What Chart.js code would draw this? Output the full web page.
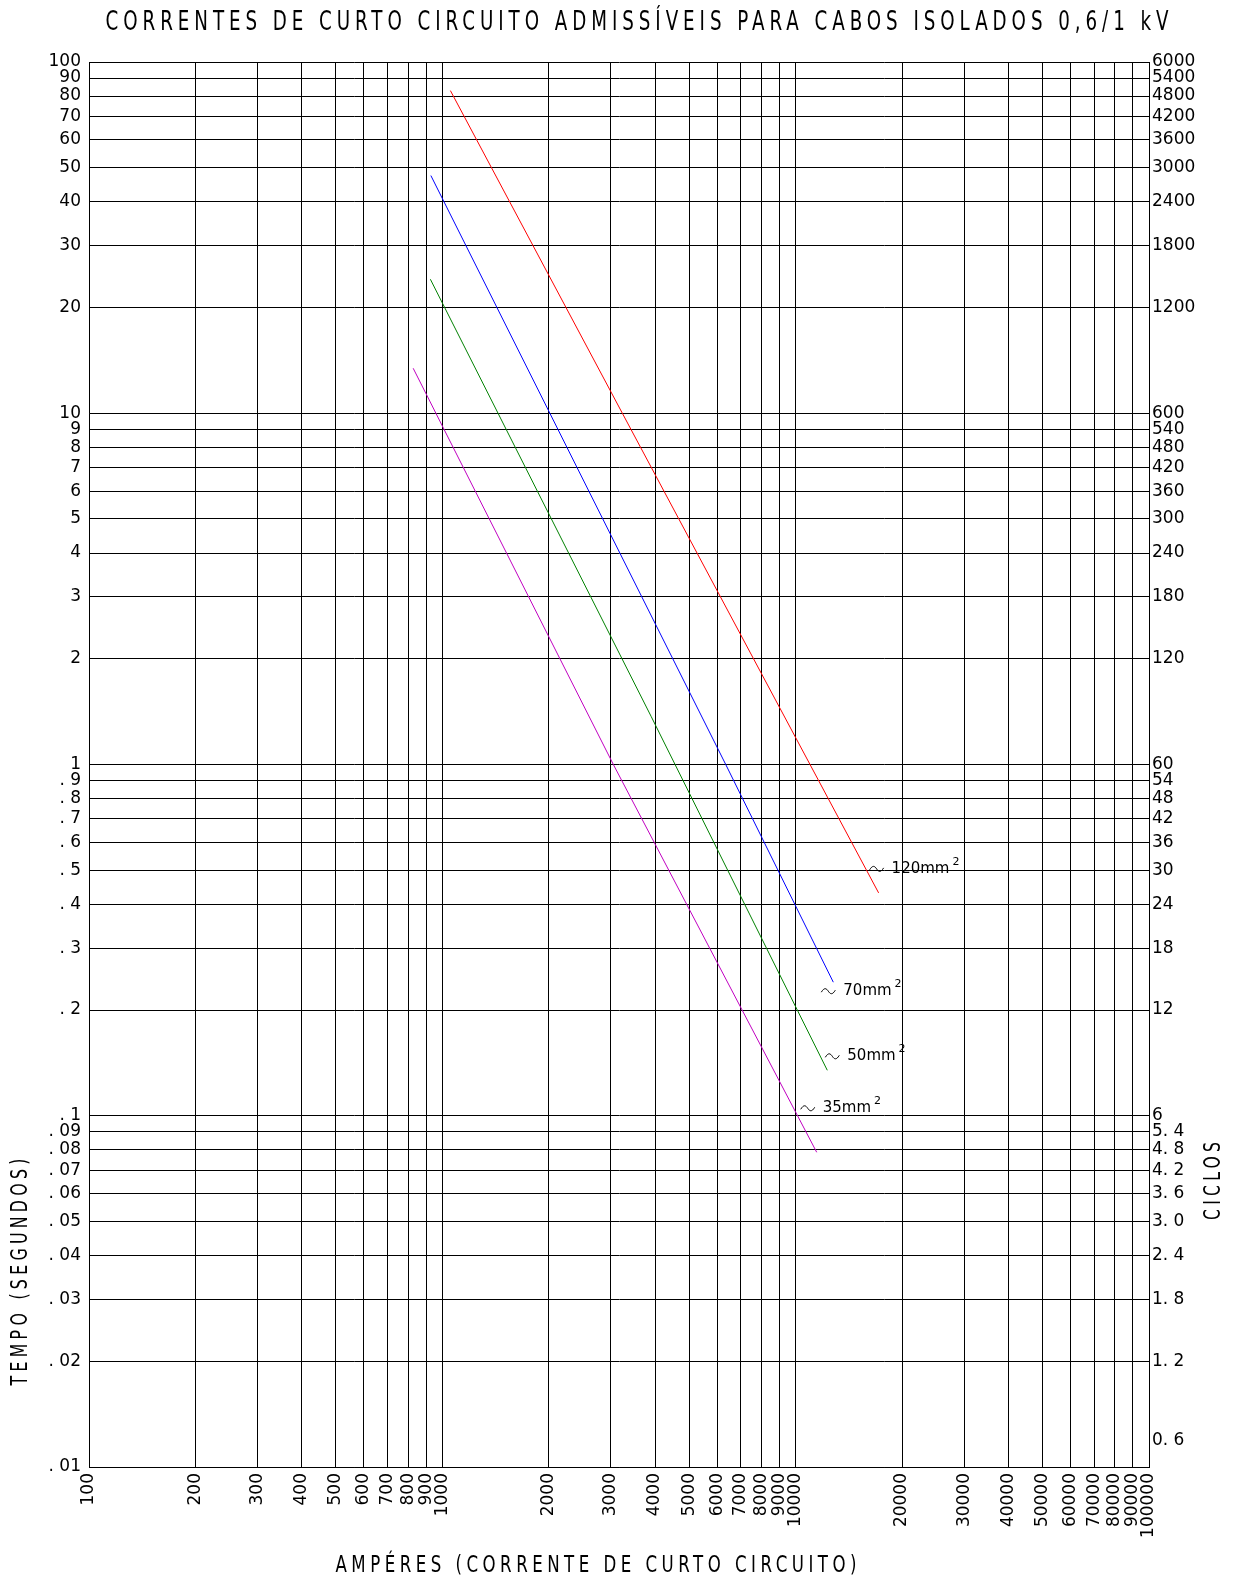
<!DOCTYPE html>
<html>
<head>
<meta charset="utf-8">
<script src="https://cdn.jsdelivr.net/npm/chart.js@4.4.0/dist/chart.umd.min.js"></script>
<style>
body{margin:0;background:#fff}
#wrap{width:1239px;height:1581px}
</style>
</head>
<body>
<div id="wrap"><canvas id="mychart" width="1239" height="1581"></canvas></div>
<script>
// points (amperes, seconds)
const amps120=[1054,3232,17170]
const secs120=[82.9,10,0.431]
const amps70=[928,6340,12780]
const secs70=[47.5,1.0,0.24]
const amps50=[925,3897,12290]
const secs50=[24.07,1.372,0.1347]
const amps35=[827,3048,11470]
const secs35=[13.43,1.0,0.0787]

const xTicks=[100,200,300,400,500,600,700,800,900,1000,2000,3000,4000,5000,6000,7000,8000,9000,10000,20000,30000,40000,50000,60000,70000,80000,90000,100000]
const xLabels=["100","200","300","400","500","600","700","800","900","1000","2000","3000","4000","5000","6000","7000","8000","9000","10000","20000","30000","40000","50000","60000","70000","80000","90000","100000"]

const yTicks=[0.01,0.02,0.03,0.04,0.05,0.06,0.07,0.08,0.09,0.1,0.2,0.3,0.4,0.5,0.6,0.7,0.8,0.9,1,2,3,4,5,6,7,8,9,10,20,30,40,50,60,70,80,90,100]
const yLabels=[". 01",". 02",". 03",". 04",". 05",". 06",". 07",". 08",". 09",". 1",". 2",". 3",". 4",". 5",". 6",". 7",". 8",". 9","1","2","3","4","5","6","7","8","9","10","20","30","40","50","60","70","80","90","100"]

// ciclos (60 Hz) on the right side
const cycTicks=[0.0119,0.02,0.03,0.04,0.05,0.06,0.07,0.08,0.09,0.1,0.2,0.3,0.4,0.5,0.6,0.7,0.8,0.9,1,2,3,4,5,6,7,8,9,10,20,30,40,50,60,70,80,90,100]
const cycLabels=["0. 6","1. 2","1. 8","2. 4","3. 0","3. 6","4. 2","4. 8","5. 4","6","12","18","24","30","36","42","48","54","60","120","180","240","300","360","420","480","540","600","1200","1800","2400","3000","3600","4200","4800","5400","6000"]

const cables=["120mm","70mm","50mm","35mm"]

const FONT='"DejaVu Sans"'

function pts(a,s){return a.map((v,i)=>({x:v,y:s[i]}))}

// condensed, letter-spaced text like the CAD font, squeezed to a given width
function cadText(ctx,text,cx,cy,width,size,angle){
  ctx.save()
  ctx.font=size+'px '+FONT
  ctx.letterSpacing=(size*0.27)+'px'
  const w=ctx.measureText(text).width-size*0.27
  ctx.translate(cx,cy)
  ctx.rotate(angle||0)
  ctx.scale(width/w,1)
  ctx.textAlign='left'
  ctx.textBaseline='middle'
  ctx.fillStyle='#000'
  ctx.fillText(text,-w/2,0)
  ctx.restore()
}

function tilde(ctx,x,y){
  ctx.beginPath()
  ctx.moveTo(x,y+1)
  ctx.bezierCurveTo(x+3,y-4,x+5,y-3,x+7,y)
  ctx.bezierCurveTo(x+9,y+3,x+11,y+4,x+14,y-1)
  ctx.strokeStyle='#000'
  ctx.lineWidth=1
  ctx.stroke()
}

const textPlugin={
  id:'texts',
  afterDraw(chart){
    const ctx=chart.ctx
    cadText(ctx,'CORRENTES DE CURTO CIRCUITO ADMISSÍVEIS PARA CABOS ISOLADOS 0,6/1 kV',637,23,1063,27,0)
    cadText(ctx,'AMPÉRES (CORRENTE DE CURTO CIRCUITO)',596,1566,521,23,0)
    cadText(ctx,'TEMPO (SEGUNDOS)',21,1272,227,23,-Math.PI/2)
    cadText(ctx,'CICLOS',1214,1181,78,23,-Math.PI/2)

    // cable labels next to the end of each line
    const offs=[[-9,-24],[-12,9],[-2,-14],[-16,-44]]
    chart.data.datasets.forEach((ds,i)=>{
      const last=ds.data[ds.data.length-1]
      const x=chart.scales.x.getPixelForValue(last.x)+offs[i][0]
      const y=chart.scales.y.getPixelForValue(last.y)+offs[i][1]
      ctx.save()
      tilde(ctx,x,y)
      ctx.fillStyle='#000'
      ctx.textBaseline='middle'
      ctx.font='15px '+FONT
      ctx.fillText(cables[i],x+22,y)
      const w=ctx.measureText(cables[i]).width
      ctx.font='11px '+FONT
      ctx.fillText('2',x+22+w+3,y-7)
      ctx.restore()
    })
  }
}

new Chart("mychart",{
  type:"line",
  data:{
    datasets:[
      {label:"120mm²",data:pts(amps120,secs120),borderColor:"#ff0000"},
      {label:"70mm²",data:pts(amps70,secs70),borderColor:"#0000ff"},
      {label:"50mm²",data:pts(amps50,secs50),borderColor:"#008000"},
      {label:"35mm²",data:pts(amps35,secs35),borderColor:"#c000c0"},
    ],
  },
  options:{
    responsive:false,
    animation:false,
    layout:{padding:{top:62,left:0,right:0,bottom:0}},
    elements:{
      line:{borderWidth:1,tension:0,fill:false},
      point:{radius:0,hoverRadius:0},
    },
    plugins:{legend:{display:false},tooltip:{enabled:false}},
    scales:{
      x:{
        type:"logarithmic",
        min:100,max:100000,
        afterBuildTicks:s=>{s.ticks=xTicks.map(v=>({value:v}))},
        afterFit:s=>{s.height=114},
        ticks:{
          autoSkip:false,minRotation:90,maxRotation:90,padding:6,
          color:"#000",font:{family:FONT,size:17},
          callback:(v,i)=>xLabels[i],
        },
        grid:{color:"#000",lineWidth:1,drawTicks:false},
        border:{color:"#000",width:1},
      },
      y:{
        type:"logarithmic",
        position:"left",
        min:0.01,max:100,
        afterBuildTicks:s=>{s.ticks=yTicks.map(v=>({value:v}))},
        afterFit:s=>{s.width=89},
        ticks:{
          autoSkip:false,padding:8,
          color:"#000",font:{family:FONT,size:17},
          callback:(v,i)=>yLabels[i],
        },
        grid:{color:"#000",lineWidth:1,drawTicks:false},
        border:{color:"#000",width:1},
      },
      y2:{
        type:"logarithmic",
        position:"right",
        min:0.01,max:100,
        afterBuildTicks:s=>{s.ticks=cycTicks.map(v=>({value:v}))},
        afterFit:s=>{s.width=90},
        ticks:{
          autoSkip:false,padding:3,
          color:"#000",font:{family:FONT,size:17},
          callback:(v,i)=>cycLabels[i],
        },
        grid:{display:false,drawTicks:false},
        border:{color:"#000",width:1},
      },
    },
  },
  plugins:[textPlugin],
});
</script>
</body>
</html>
